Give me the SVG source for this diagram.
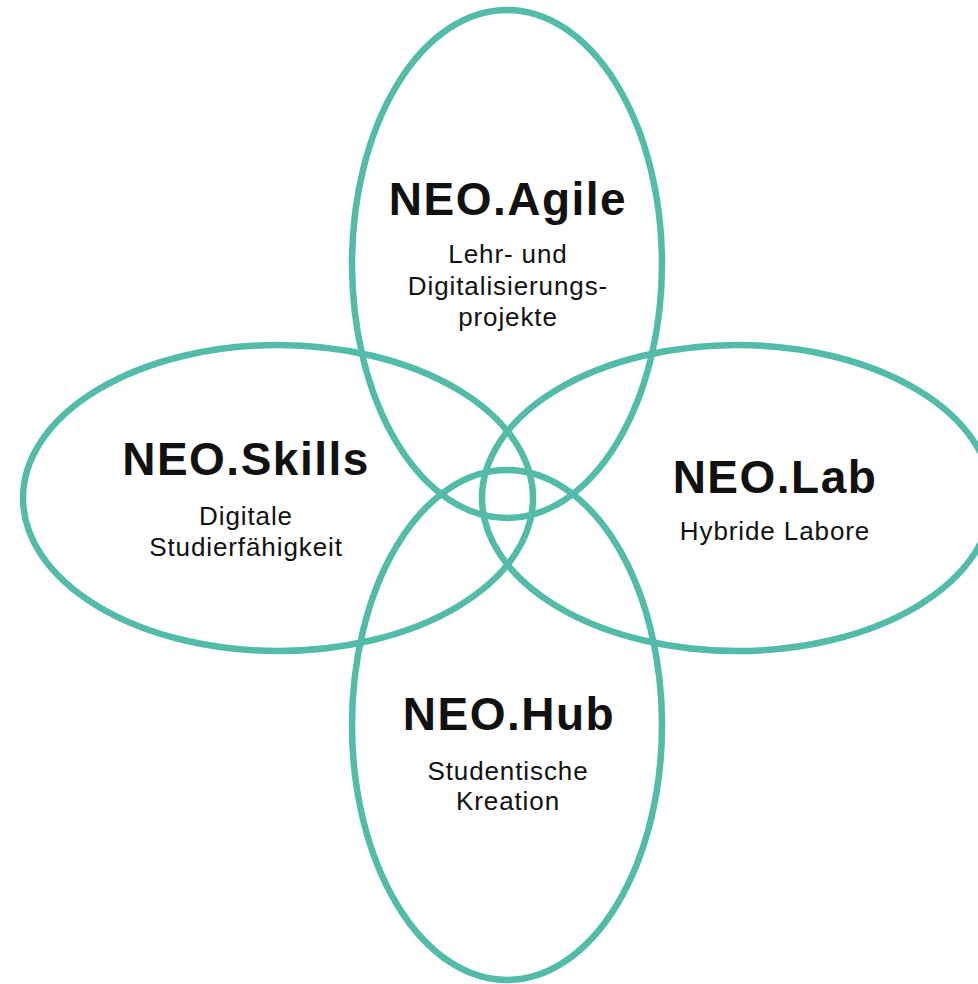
<svg xmlns="http://www.w3.org/2000/svg" width="978" height="984" viewBox="0 0 978 984">
<style>
.ring{fill:none;stroke:#52BBAA;stroke-width:6.5}
.title{font-family:"Liberation Sans",Arial,sans-serif;font-weight:bold;font-size:46px;letter-spacing:1.5px;fill:#111;text-anchor:middle}
.sub{font-family:"Liberation Sans",Arial,sans-serif;font-size:26px;letter-spacing:0.9px;fill:#111;text-anchor:middle}
</style>
<rect width="978" height="984" fill="#fff"/>
<g id="connectors"></g>
<g id="agile">
<ellipse class="ring" cx="507" cy="264" rx="155" ry="254"/>
<text class="title" x="508" y="215">NEO.Agile</text>
<text class="sub" x="508" y="263">Lehr- und</text>
<text class="sub" x="508" y="295">Digitalisierungs-</text>
<text class="sub" x="508" y="326">projekte</text>
</g>
<g id="skills">
<ellipse class="ring" cx="278" cy="498" rx="255" ry="153"/>
<text class="title" x="246" y="475">NEO.Skills</text>
<text class="sub" x="246" y="525">Digitale</text>
<text class="sub" x="246" y="556">Studierfähigkeit</text>
</g>
<g id="lab">
<ellipse class="ring" cx="737" cy="498" rx="255" ry="153"/>
<text class="title" x="775" y="493">NEO.Lab</text>
<text class="sub" x="775" y="540">Hybride Labore</text>
</g>
<g id="hub">
<ellipse class="ring" cx="507" cy="725" rx="155" ry="255"/>
<text class="title" x="509" y="730">NEO.Hub</text>
<text class="sub" x="508" y="780">Studentische</text>
<text class="sub" x="508" y="810">Kreation</text>
</g>
</svg>
